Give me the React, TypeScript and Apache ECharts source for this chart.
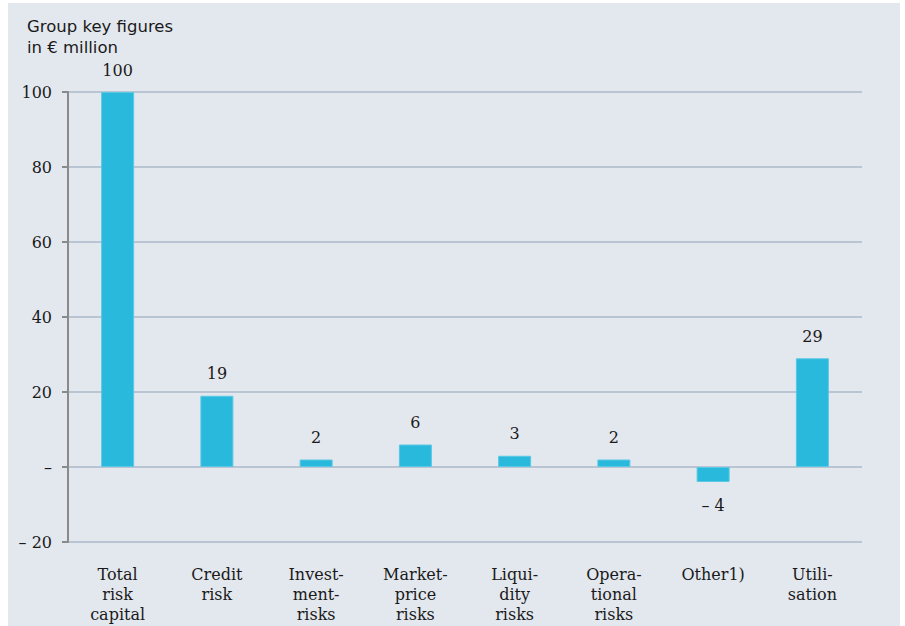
import React, { useEffect, useRef } from "react";
import * as echarts from "echarts";

const categories = [
  "Total\nrisk\ncapital",
  "Credit\nrisk",
  "Invest-\nment-\nrisks",
  "Market-\nprice\nrisks",
  "Liqui-\ndity\nrisks",
  "Opera-\ntional\nrisks",
  "Other1)",
  "Utili-\nsation",
];
const values = [100, 19, 2, 6, 3, 2, -4, 29];
const yTicks = [-20, 0, 20, 40, 60, 80, 100];
const titleLines = ["Group key figures", "in € million"];

const fmt = (v: number) => (v === 0 ? "–" : v < 0 ? "– " + Math.abs(v) : String(v));

const SERIF = "'DejaVu Serif', serif";
const SANS = "'DejaVu Sans', sans-serif";

export default function App() {
  const ref = useRef<HTMLDivElement>(null);
  useEffect(() => {
    if (!ref.current) return;
    const chart = echarts.init(ref.current, undefined, { renderer: "svg" });
    chart.setOption({
      animation: false,
      backgroundColor: "#e3e7ee",
      graphic: titleLines.map((t, i) => ({
        type: "text",
        left: 19,
        top: 15 + i * 21,
        style: { text: t, font: `normal 16.5px ${SANS}`, fill: "#1a1a1a" },
      })),
      grid: { left: 60, right: 38, top: 89, bottom: 84, containLabel: false },
      xAxis: {
        type: "category",
        data: categories,
        axisLine: { show: false },
        axisTick: { show: false },
        axisLabel: { fontFamily: SERIF, fontSize: 16, color: "#1a1a1a", lineHeight: 20, margin: 22, interval: 0 },
      },
      yAxis: {
        type: "value",
        min: yTicks[0],
        max: yTicks[yTicks.length - 1],
        interval: 20,
        axisLine: { show: true, lineStyle: { color: "#8a8a8a", width: 2 } },
        axisTick: { show: true, length: 6, lineStyle: { color: "#8a8a8a", width: 2 } },
        splitLine: { show: true, lineStyle: { color: "#b9c5d2", width: 2 } },
        axisLabel: {
          fontFamily: SERIF,
          fontSize: 16,
          color: "#1a1a1a",
          margin: 16,
          formatter: (v: number) => fmt(v),
        },
      },
      series: [
        {
          type: "bar",
          barWidth: 33,
          data: values.map((v) => ({
            value: v,
            label: { position: v < 0 ? "bottom" : "top", distance: v < 0 ? 15 : 14 },
          })),
          itemStyle: { color: "#29b9dc", borderColor: "#5cc8e4", borderWidth: 1 },
          label: {
            show: true,
            fontFamily: SERIF,
            fontSize: 16,
            color: "#1a1a1a",
            formatter: (p: any) => fmt(p.value),
          },
        },
      ],
    });
    return () => chart.dispose();
  }, []);
  return (
    <div
      ref={ref}
      style={{ position: "absolute", left: 8, top: 3, width: 892, height: 623 }}
    />
  );
}
